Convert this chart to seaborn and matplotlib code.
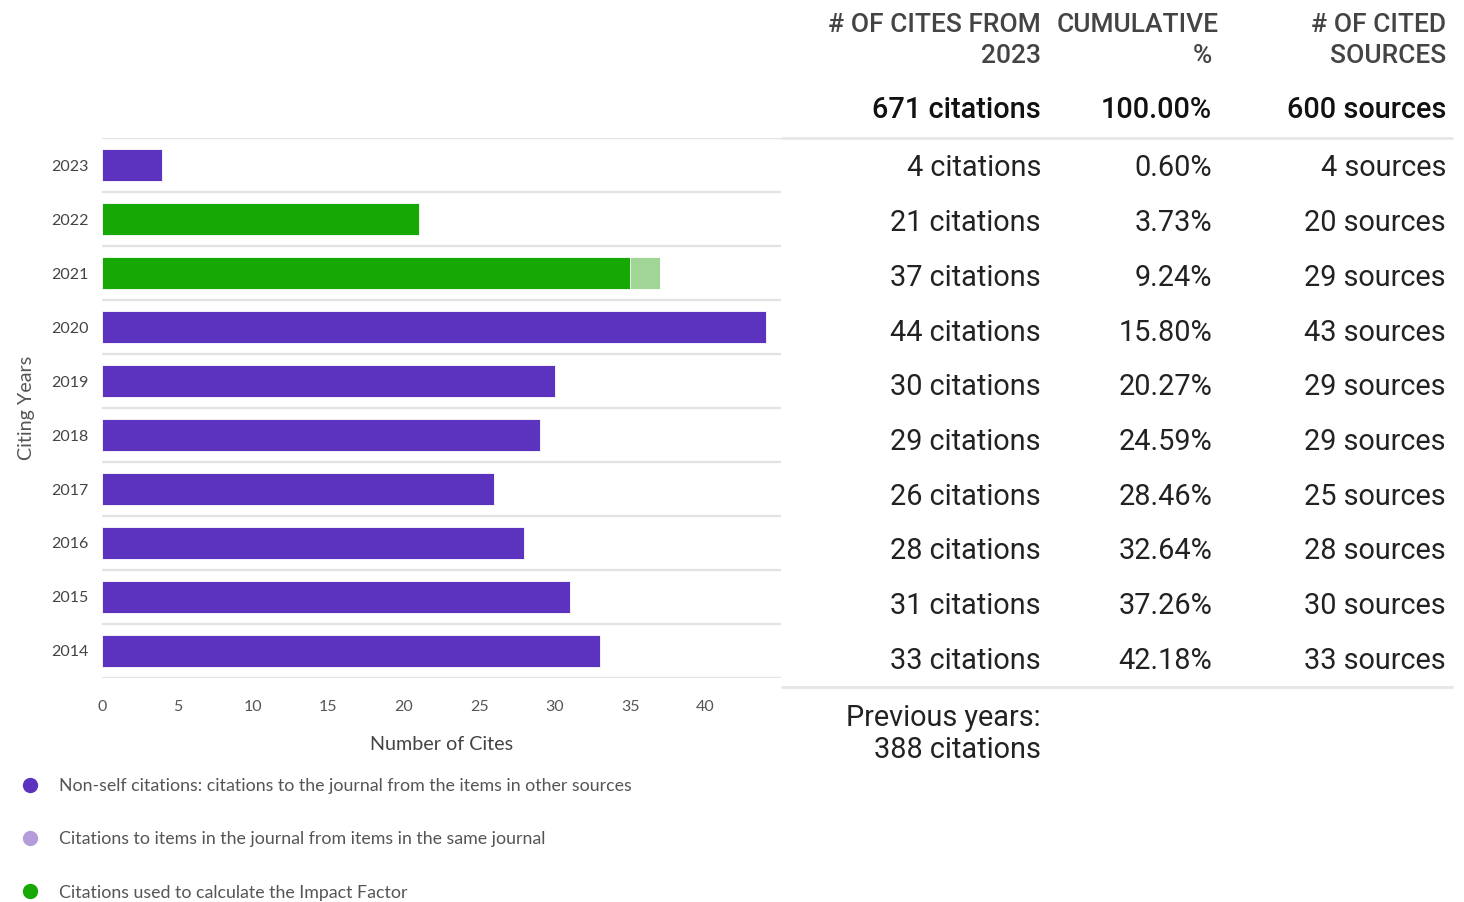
import matplotlib
matplotlib.use('Agg')
import matplotlib.pyplot as plt
from matplotlib.lines import Line2D
import seaborn as sns
import pandas as pd

# chart data
years = ['2023', '2022', '2021', '2020', '2019', '2018', '2017', '2016', '2015', '2014']
cites = [4, 21, 37, 44, 30, 29, 26, 28, 31, 33]
self_cites = [0, 0, 2, 0, 0, 0, 0, 0, 0, 0]
if_years = ['2022', '2021']
x_ticks = [0, 5, 10, 15, 20, 25, 30, 35, 40]

# table data
header_top = ['# OF CITES FROM', 'CUMULATIVE', '# OF CITED']
header_bottom = ['2023', '%', 'SOURCES']
totals = ['671 citations', '100.00%', '600 sources']
cum_pct = ['0.60%', '3.73%', '9.24%', '15.80%', '20.27%', '24.59%', '28.46%', '32.64%', '37.26%', '42.18%']
sources = [4, 20, 29, 43, 29, 29, 25, 28, 30, 33]
previous = 'Previous years:\n388 citations'

legend_labels = ['Non-self citations: citations to the journal from the items in other sources',
                 'Citations to items in the journal from items in the same journal',
                 'Citations used to calculate the Impact Factor']

purple = '#5c33be'
light_purple = '#b39ddb'
green = '#16a906'
light_green = '#a1d596'

sns.set_theme(style='white')
plt.rcParams['font.family'] = ['Lato', 'DejaVu Sans']

df = pd.DataFrame({'year': years, 'total': cites,
                   'nonself': [c - s for c, s in zip(cites, self_cites)]})

fig = plt.figure(figsize=(14.64, 9.02), dpi=100)
ax = fig.add_axes([102 / 1464, 1 - 678 / 902, 679 / 1464, 540 / 902])

# total bars (light shade shows self citations), then non-self on top
light_pal = {y: (light_green if y in if_years else light_purple) for y in years}
dark_pal = {y: (green if y in if_years else purple) for y in years}
sns.barplot(data=df, x='total', y='year', hue='year', palette=light_pal, legend=False,
            orient='h', width=0.6, ax=ax, saturation=1, edgecolor='white', linewidth=0.6)
sns.barplot(data=df, x='nonself', y='year', hue='year', palette=dark_pal, legend=False,
            orient='h', width=0.6, ax=ax, saturation=1, edgecolor='white', linewidth=0.6)

ax.set_xlim(0, 45)
ax.set_ylim(len(years) - 0.5, -0.5)
ax.set_xticks(x_ticks)
ax.set_yticks(range(len(years)), years)
ax.set_yticks([i - 0.5 for i in range(len(years) + 1)], minor=True)
ax.grid(False)
ax.grid(True, which='minor', axis='y', color='#e3e3e3', linewidth=1.6)
ax.set_axisbelow(True)
for s in ax.spines.values():
    s.set_visible(False)
ax.tick_params(axis='x', length=0, pad=15.5, labelsize=11.5, labelcolor='#555555')
ax.tick_params(axis='y', which='both', length=0, pad=9.5, labelsize=11.5, labelcolor='#444444')
ax.set_xlabel('Number of Cites', fontsize=14.2, color='#444444', labelpad=16)
ax.set_ylabel('Citing Years', fontsize=14.2, color='#555555', labelpad=12)

# legend
handles = [Line2D([], [], marker='o', linestyle='', markersize=10, color=c)
           for c in [purple, light_purple, green]]
fig.legend(handles, legend_labels, loc='upper left', bbox_to_anchor=(21 / 1464, 1 - 778 / 902),
           frameon=False, fontsize=12.8, labelcolor='#555555', handlelength=1.0,
           handletextpad=1.15, labelspacing=2.1, borderpad=0, borderaxespad=0)

# table on the right
col_x = [1041 / 1464, 1212 / 1464, 1446 / 1464]
top_x = [1041 / 1464, 1219 / 1464, 1446 / 1464]
tfont = ['Roboto', 'DejaVu Sans']
for x, h in zip(top_x, header_top):
    fig.text(x, 1 - 25 / 902, h, ha='right', va='center', fontsize=19, color='#444444',
             family=tfont, fontweight='medium')
for x, h in zip(col_x, header_bottom):
    fig.text(x, 1 - 56 / 902, h, ha='right', va='center', fontsize=19, color='#444444',
             family=tfont, fontweight='medium')
for x, t in zip(col_x, totals):
    fig.text(x, 1 - 110 / 902, t, ha='right', va='center', fontsize=20.8, color='#111111',
             family=tfont, fontweight='medium')
for i in range(len(years)):
    y = 1 - (168.5 + i * 54.7) / 902
    row = [f'{cites[i]} citations', cum_pct[i], f'{sources[i]} sources']
    for x, t in zip(col_x, row):
        fig.text(x, y, t, ha='right', va='center', fontsize=20.8, color='#222222', family=tfont)
fig.text(col_x[0], 1 - 734 / 902, previous, ha='right', va='center', fontsize=20.8,
         color='#222222', family=tfont, linespacing=1.2)

for yy in [138, 687]:
    fig.add_artist(Line2D([782 / 1464, 1452 / 1464], [1 - yy / 902] * 2,
                          transform=fig.transFigure, color='#e6e6e6', linewidth=2))

fig.savefig('out.png', dpi=100)
